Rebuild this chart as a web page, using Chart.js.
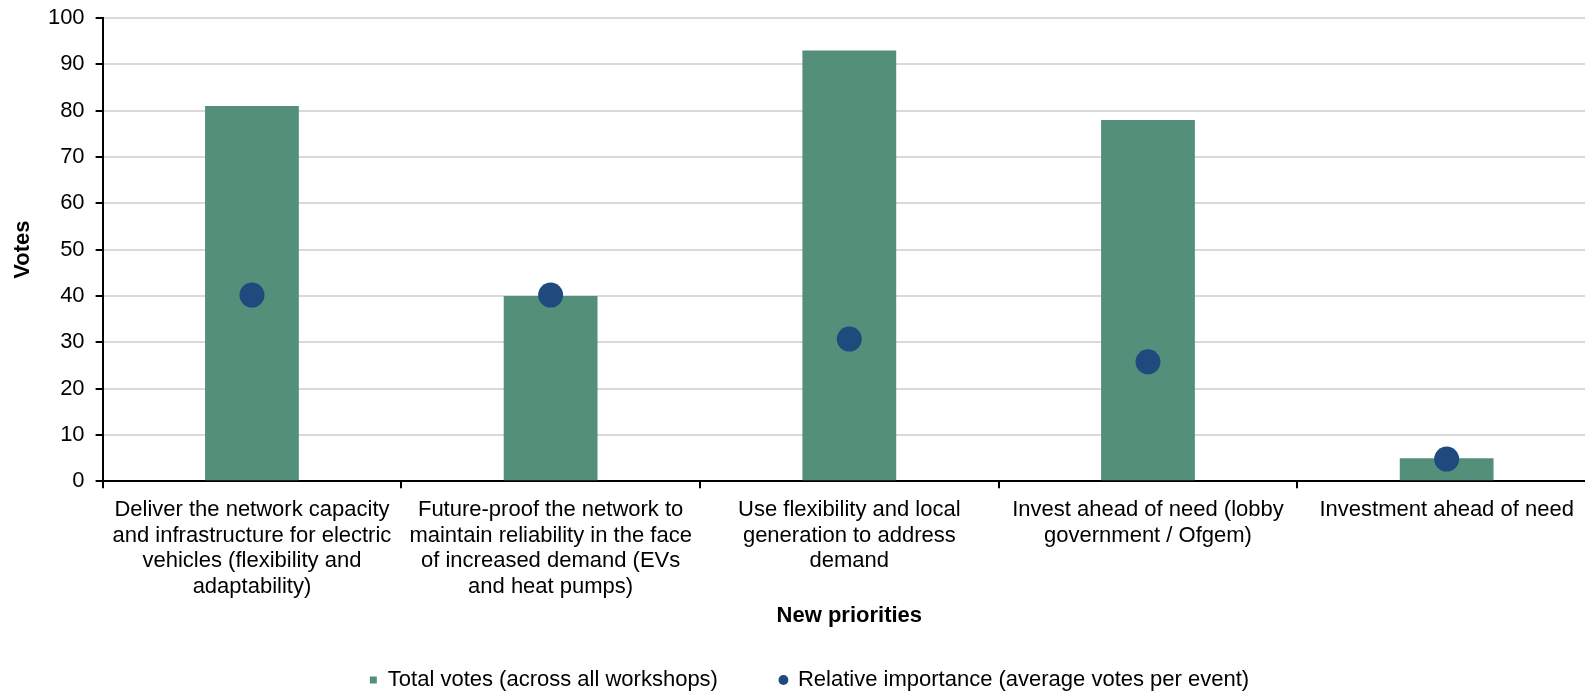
<!DOCTYPE html>
<html>
<head>
<meta charset="utf-8">
<title>New priorities</title>
<script src="https://cdn.jsdelivr.net/npm/chart.js@4"></script>
<style>
  html, body { margin: 0; padding: 0; background: #fff; overflow: hidden; }
  #wrap { position: relative; width: 1616px; height: 701px; }
</style>
</head>
<body>
<div id="wrap"><canvas id="prioritiesChart"></canvas></div>
<script>
// categories (one array per wrapped label)
const categories = [
    ['Deliver the network capacity', 'and infrastructure for electric', 'vehicles (flexibility and', 'adaptability)'],
    ['Future-proof the network to', 'maintain reliability in the face', 'of increased demand (EVs', 'and heat pumps)'],
    ['Use flexibility and local', 'generation to address', 'demand'],
    ['Invest ahead of need (lobby', 'government / Ofgem)'],
    ['Investment ahead of need']
];
const totalVotes = [81, 40, 93, 78, 5];
const relativeImportance = [40.2, 40.2, 30.7, 25.8, 4.8];
const yMin = 0;
const yMax = 100;
const yStep = 10;

const FONT = '"Liberation Sans", Arial, sans-serif';
const GREEN = '#548f7a';
const BLUE = '#1f4a7e';

const prioritiesChart = new Chart(document.getElementById('prioritiesChart'), {
    type: 'bar',
    data: {
        labels: categories,
        datasets: [{
            label: 'Total votes (across all workshops)',
            data: totalVotes,
            backgroundColor: GREEN,
            borderWidth: 0,
            pointStyle: 'rect',
            categoryPercentage: 1,
            barPercentage: 0.314,
            order: 2
        }, {
            type: 'line',
            label: 'Relative importance (average votes per event)',
            data: relativeImportance,
            showLine: false,
            backgroundColor: BLUE,
            borderColor: BLUE,
            pointBackgroundColor: BLUE,
            pointBorderWidth: 0,
            pointRadius: 12.5,
            pointStyle: 'circle',
            clip: false,
            order: 1
        }]
    },
    options: {
        responsive: true,
        maintainAspectRatio: false,
        animation: false,
        layout: {
            padding: { top: 18, left: 23, right: 20, bottom: 0 }
        },
        plugins: {
            tooltip: { enabled: false },
            legend: {
                position: 'bottom',
                labels: {
                    color: '#000',
                    font: { family: FONT, size: 22 },
                    usePointStyle: true,
                    boxWidth: 7,
                    boxHeight: 7,
                    // wide gap between the two entries
                    padding: 62,
                    sort: (a, b) => a.datasetIndex - b.datasetIndex
                }
            }
        },
        scales: {
            x: {
                offset: true,
                grid: {
                    offset: true,
                    drawOnChartArea: false,
                    drawTicks: true,
                    tickLength: 7,
                    tickColor: '#000',
                    lineWidth: 2
                },
                border: { color: '#000', width: 2 },
                ticks: {
                    color: '#000',
                    padding: 8.5,
                    maxRotation: 0,
                    autoSkip: false,
                    font: { family: FONT, size: 22, lineHeight: 1.17 }
                },
                title: {
                    display: true,
                    text: 'New priorities',
                    color: '#000',
                    font: { family: FONT, size: 22, weight: 'bold', lineHeight: 1.2 },
                    padding: { top: -5.5, bottom: -22.2 }
                }
            },
            y: {
                min: yMin,
                max: yMax,
                grid: {
                    color: '#d9d9d9',
                    lineWidth: 2,
                    tickColor: '#000',
                    tickLength: 7
                },
                border: { color: '#000', width: 2 },
                ticks: {
                    stepSize: yStep,
                    color: '#000',
                    padding: 11,
                    font: { family: FONT, size: 22, lineHeight: 0.6 }
                },
                title: {
                    display: true,
                    text: 'Votes',
                    color: '#000',
                    font: { family: FONT, size: 22, weight: 'bold', lineHeight: 1.2 },
                    padding: { top: -13.2, bottom: 0.7 }
                }
            }
        }
    }
});
</script>
</body>
</html>
